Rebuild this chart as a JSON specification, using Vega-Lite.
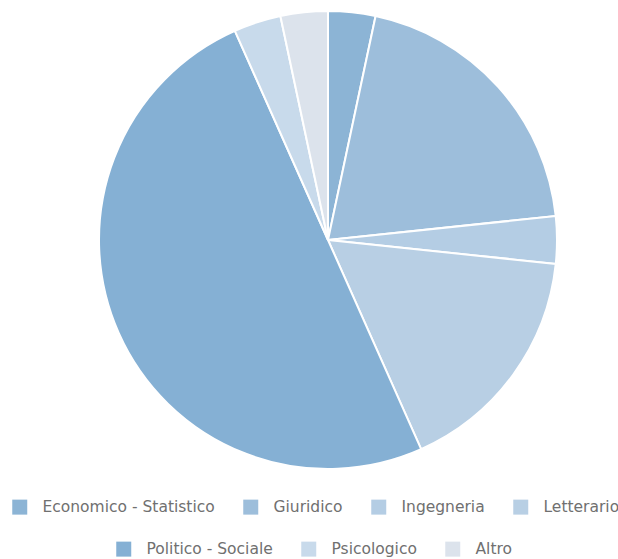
{
  "$schema": "https://vega.github.io/schema/vega-lite/v6.json",
  "width": 580,
  "height": 460,
  "autosize": "none",
  "padding": {"left": 38, "top": 10, "right": 0, "bottom": 89},
  "background": "white",
  "data": {
    "values": [
      {"cat": "Economico - Statistico", "n": 1, "ord": 1},
      {"cat": "Giuridico", "n": 6, "ord": 2},
      {"cat": "Ingegneria", "n": 1, "ord": 3},
      {"cat": "Letterario", "n": 5, "ord": 4},
      {"cat": "Politico - Sociale", "n": 15, "ord": 5},
      {"cat": "Psicologico", "n": 1, "ord": 6},
      {"cat": "Altro", "n": 1, "ord": 7}
    ]
  },
  "config": {
    "view": {"stroke": null},
    "legend": {
      "orient": "none",
      "direction": "horizontal",
      "symbolType": "square",
      "symbolSize": 225,
      "symbolStrokeWidth": 0,
      "symbolOpacity": 1,
      "labelOffset": 15,
      "columnPadding": 28,
      "labelFontSize": 15.5,
      "labelFont": "DejaVu Sans",
      "labelColor": "#707070",
      "labelLimit": 400,
      "title": null,
      "padding": 0
    }
  },
  "layer": [
    {
      "mark": {"type": "arc", "outerRadius": 229, "stroke": "white", "strokeWidth": 2},
      "encoding": {
        "theta": {"field": "n", "type": "quantitative", "stack": true},
        "order": {"field": "ord", "type": "quantitative"},
        "color": {
          "field": "cat",
          "type": "nominal",
          "scale": {
            "domain": ["Economico - Statistico", "Giuridico", "Ingegneria", "Letterario", "Politico - Sociale", "Psicologico", "Altro"],
            "range": ["#8cb4d5", "#9dbedb", "#b4cde4", "#b8cfe4", "#85b0d4", "#c8daeb", "#dce3ec"]
          },
          "legend": {
            "values": ["Economico - Statistico", "Giuridico", "Ingegneria", "Letterario"],
            "legendX": -26,
            "legendY": 489
          }
        }
      }
    },
    {
      "mark": {"type": "arc", "outerRadius": 229, "stroke": "white", "strokeWidth": 2},
      "encoding": {
        "theta": {"field": "n", "type": "quantitative", "stack": true},
        "order": {"field": "ord", "type": "quantitative"},
        "color": {
          "field": "cat",
          "type": "nominal",
          "scale": {
            "domain": ["Economico - Statistico", "Giuridico", "Ingegneria", "Letterario", "Politico - Sociale", "Psicologico", "Altro"],
            "range": ["#8cb4d5", "#9dbedb", "#b4cde4", "#b8cfe4", "#85b0d4", "#c8daeb", "#dce3ec"]
          },
          "legend": {
            "values": ["Politico - Sociale", "Psicologico", "Altro"],
            "legendX": 78,
            "legendY": 531
          }
        }
      }
    }
  ],
  "resolve": {"scale": {"color": "independent"}, "legend": {"color": "independent"}}
}
